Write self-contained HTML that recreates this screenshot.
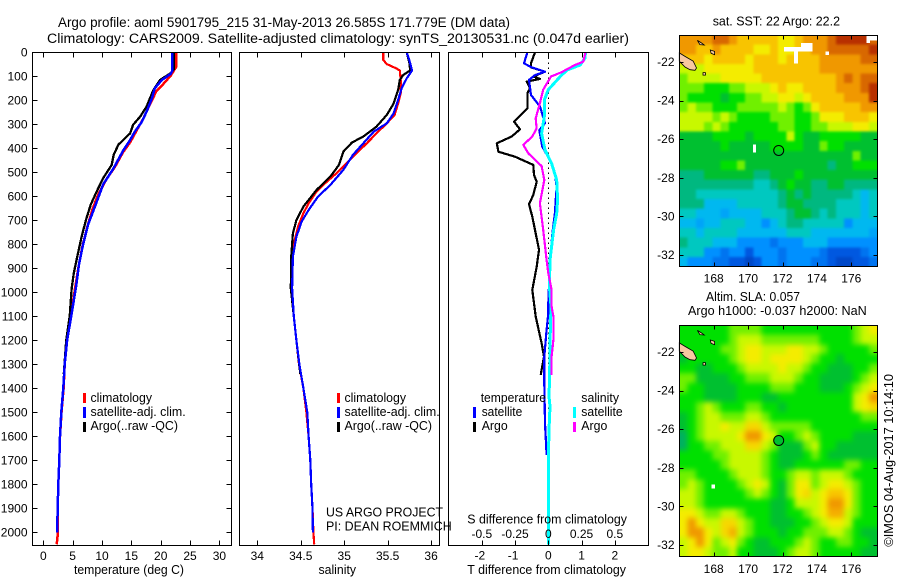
<!DOCTYPE html>
<html>
<head>
<meta charset="utf-8">
<title>Argo profile chart</title>
<style>
html,body{margin:0;padding:0;background:#fff;}
svg{display:block;}
text{font-family:"Liberation Sans",sans-serif;fill:#000;font-size:12.5px;}
.t{font-size:13.5px;}
.k{font-size:12px;}
</style>
</head>
<body>
<svg id="chart" xmlns="http://www.w3.org/2000/svg" width="900" height="580" viewBox="0 0 900 580">
<defs>
<filter id="blur-sst" color-interpolation-filters="sRGB"><feGaussianBlur stdDeviation="1.3"/></filter>
<filter id="blur-sla" color-interpolation-filters="sRGB"><feGaussianBlur stdDeviation="2.6"/></filter>
<clipPath id="clip-sst"><rect x="679.5" y="35.5" width="198" height="231"/></clipPath>
<clipPath id="clip-sla"><rect x="679.5" y="325.5" width="198" height="231"/></clipPath>
</defs>
<rect x="0" y="0" width="900" height="580" fill="#fff"/>
<text class="t" x="58" y="27" textLength="452" lengthAdjust="spacingAndGlyphs">Argo profile: aoml 5901795_215 31-May-2013 26.585S 171.779E (DM data)</text>
<text class="t" x="47" y="43" textLength="582" lengthAdjust="spacingAndGlyphs">Climatology: CARS2009. Satellite-adjusted climatology: synTS_20130531.nc (0.047d earlier)</text>

<g id="p1"></g>
<g id="p2"></g>
<g id="p3"></g>
<g id="m1"></g>
<g id="m2"></g>

<text x="74" y="574" textLength="110" lengthAdjust="spacingAndGlyphs">temperature (deg C)</text>
<text x="318.5" y="574" textLength="37.5" lengthAdjust="spacingAndGlyphs">salinity</text>
<text x="467.3" y="574" textLength="158.7" lengthAdjust="spacingAndGlyphs">T difference from climatology</text>
<text x="467.3" y="523.5" textLength="159.7" lengthAdjust="spacingAndGlyphs">S difference from climatology</text>

<g>
<rect x="83" y="393" width="3" height="10" fill="#f00"/>
<rect x="83" y="407" width="3" height="11" fill="#00f"/>
<rect x="83" y="422" width="3" height="10" fill="#000"/>
<text x="90.5" y="402" textLength="61.5" lengthAdjust="spacingAndGlyphs">climatology</text>
<text x="90.5" y="416" textLength="95.2" lengthAdjust="spacingAndGlyphs">satellite-adj. clim.</text>
<text x="90.5" y="430" textLength="87.5" lengthAdjust="spacingAndGlyphs">Argo(..raw -QC)</text>
</g>
<g>
<rect x="337" y="393" width="3" height="10" fill="#f00"/>
<rect x="337" y="407" width="3" height="11" fill="#00f"/>
<rect x="337" y="422" width="3" height="10" fill="#000"/>
<text x="344.5" y="402" textLength="61.5" lengthAdjust="spacingAndGlyphs">climatology</text>
<text x="344.5" y="416" textLength="95.2" lengthAdjust="spacingAndGlyphs">satellite-adj. clim.</text>
<text x="344.5" y="430" textLength="87.5" lengthAdjust="spacingAndGlyphs">Argo(..raw -QC)</text>
</g>
<text x="326" y="516.7" textLength="117" lengthAdjust="spacingAndGlyphs">US ARGO PROJECT</text>
<text x="326" y="530.7" textLength="125.7" lengthAdjust="spacingAndGlyphs">PI: DEAN ROEMMICH</text>

<g>
<text x="480.7" y="402" textLength="65.3" lengthAdjust="spacingAndGlyphs">temperature</text>
<text x="581.3" y="402" textLength="37.7" lengthAdjust="spacingAndGlyphs">salinity</text>
<rect x="473" y="407" width="3" height="11" fill="#00f"/>
<rect x="473" y="422" width="3" height="10" fill="#000"/>
<rect x="573" y="407" width="3" height="11" fill="#0ff"/>
<rect x="573" y="422" width="3" height="10" fill="#f0f"/>
<text x="481.7" y="416" textLength="40.6" lengthAdjust="spacingAndGlyphs">satellite</text>
<text x="481.7" y="430" textLength="26" lengthAdjust="spacingAndGlyphs">Argo</text>
<text x="581.3" y="416" textLength="41.4" lengthAdjust="spacingAndGlyphs">satellite</text>
<text x="581.3" y="430" textLength="26" lengthAdjust="spacingAndGlyphs">Argo</text>
</g>

<text x="712.7" y="25.7" textLength="127.3" lengthAdjust="spacingAndGlyphs">sat. SST: 22 Argo: 22.2</text>
<text x="706" y="301" textLength="94" lengthAdjust="spacingAndGlyphs">Altim. SLA: 0.057</text>
<text x="688" y="315" textLength="178.7" lengthAdjust="spacingAndGlyphs">Argo h1000: -0.037 h2000: NaN</text>
<text transform="translate(893,546.7) rotate(-90)" x="0" y="0" textLength="172.7" lengthAdjust="spacingAndGlyphs">©IMOS 04-Aug-2017 10:14:10</text>
</svg>

<script>
// ---- depth axis ----
const depthTicks = [0,100,200,300,400,500,600,700,800,900,1000,1100,1200,1300,1400,1500,1600,1700,1800,1900,2000];

// ---- temperature panel ----
const tempTicks = [0,5,10,15,20,25,30];
const tempClimDepth = [0,60,97,132,160,215,278,326,375,416,478,527,590,652,728,805,895,985,1100,1200,1300,1400,1500,1600,1700,1800,1900,2000,2050];
const tempClimValue = [22.66,22.66,21.7,20.45,19.3,18.2,17.0,15.9,14.8,13.6,12.2,10.8,9.4,8.4,7.5,6.7,6.0,5.4,4.7,4.05,3.65,3.45,3.1,2.85,2.73,2.56,2.45,2.5,2.28];
const tempArgoDepth = [0,70,87,115,157,226,268,302,337,385,427,469,524,580,635,698,767,851,920,983,1100,1200,1340];
const tempArgoValue = [22.27,22.27,21.7,19.9,18.75,17.6,16.5,15.3,14.8,12.8,12.0,11.65,10.2,9.1,8.07,7.27,6.54,5.8,5.2,4.84,4.5,3.9,3.5];
const tempSatDepth = [0,75,90,115,150,192,247,289,330,365,410,486,550,642,715,798,881,978,1100,1200,1300,1400,1500,1600,1700,1800,1900,2000];
const tempSatValue = [22.0,22.0,21.7,20.2,19.0,18.5,17.6,16.8,15.6,14.8,13.6,11.9,10.2,8.8,7.67,6.8,6.1,5.57,4.75,4.05,3.65,3.4,3.07,2.85,2.73,2.56,2.45,2.35];

// ---- salinity panel ----
const salTicks = [34,34.5,35,35.5,36];
const salTickLabels = ['34','34.5','35','35.5','36'];
const salClimDepth = [0,32,49,67,76,115,171,213,261,296,338,379,421,462,504,539,581,629,671,726,782,838,893,983,1100,1200,1300,1400,1500,1600,1700,1800,1900,2000,2050];
const salClimValue = [35.45,35.45,35.49,35.60,35.64,35.65,35.65,35.62,35.58,35.49,35.37,35.26,35.14,35.03,34.91,34.80,34.68,34.59,34.53,34.47,34.43,34.41,34.39,34.39,34.42,34.45,34.48,34.53,34.565,34.59,34.61,34.62,34.635,34.645,34.655];
const salArgoDepth = [0,46,76,94,115,157,213,261,310,351,376,414,469,518,574,643,699,754,851,983,1100,1200,1340];
const salArgoValue = [35.72,35.75,35.76,35.68,35.64,35.62,35.57,35.49,35.37,35.22,35.09,34.99,34.94,34.84,34.68,34.53,34.45,34.41,34.39,34.385,34.42,34.45,34.495];
const salSatDepth = [0,46,76,108,150,199,254,296,331,379,428,490,553,601,657,706,768,851,983,1100,1200,1300,1400,1500,1600,1700,1800,1900,2000];
const salSatValue = [35.72,35.76,35.78,35.72,35.66,35.62,35.57,35.49,35.34,35.22,35.10,34.99,34.84,34.70,34.59,34.51,34.45,34.41,34.40,34.42,34.45,34.485,34.53,34.575,34.59,34.61,34.62,34.635,34.64];

// ---- difference panel ----
const diffTTicks = [-2,-1,0,1,2];
const diffTTickLabels = ['-2','-1','0','1','2'];
const diffSTicks = [-0.5,-0.25,0,0.25,0.5];
const diffSTickLabels = ['-0.5','-0.25','0','0.25','0.5'];
const dTempArgoDepth = [0,46,63,81,101,111,122,150,171,233,289,321,351,379,414,435,469,511,539,594,633,685,740,823,893,990,1101,1212,1268,1344];
const dTempArgoValue = [-0.40,-0.52,-0.52,-0.10,-0.45,-0.25,-0.65,-0.55,-0.63,-0.63,-1.03,-0.85,-1.10,-1.55,-1.50,-1.00,-0.45,-0.43,-0.35,-0.45,-0.58,-0.48,-0.40,-0.28,-0.35,-0.48,-0.38,-0.20,-0.13,-0.23];
const dTempSatDepth = [0,46,63,81,95,115,178,226,296,324,393,463,504,560,671,747,865,1045,1087,1157,1268,1379,1545,1678];
const dTempSatValue = [-0.63,-0.73,-0.50,-0.10,-0.40,-0.58,-0.52,-0.25,-0.10,-0.27,-0.18,0.10,0.20,0.25,0.20,0.13,0.05,0,0,-0.05,-0.12,-0.12,-0.10,-0.05];
const dSalSatDepth = [0,25,53,74,101,156,199,268,338,407,463,532,615,671,740,865,976,1059,1157,1351,1434,1476,1573,1712,2050];
const dSalSatValue = [0.28,0.275,0.24,0.14,0.09,0,-0.03,-0.03,-0.05,-0.025,0.025,0.063,0.07,0.063,0.04,0.013,0.008,0.02,0.015,0.01,0.005,0.013,0.005,0,0];
const dSalArgoDepth = [0,39,53,83,101,156,212,275,317,351,386,421,474,532,629,740,865,921,990,1059,1101,1198,1268,1344];
const dSalArgoValue = [0.28,0.263,0.2,0.10,0.02,-0.038,-0.063,-0.095,-0.088,-0.12,-0.188,-0.15,-0.05,-0.03,-0.063,-0.038,-0.013,0,0.025,0.025,0.038,0.038,0.025,0.025];

// ---- maps ----
const lonTicks = [168,170,172,174,176];
const latTicks = [-22,-24,-26,-28,-30,-32];
const sstGrid = [
[11,11,11,11,12,12,11,10,10,10,10,10,9,9,10,11,11,11,12,13,13,13,13,12],
[11,11,10,10,11,10,10,10,10,9,9,10,9,9,10,10,11,11,12,12,12,12,12,13],
[10,10,10,9,10,10,10,10,9,10,10,10,9,10,10,10,10,11,11,11,11,11,12,12],
[8,8,8,9,9,9,9,9,9,10,10,10,10,10,10,10,10,11,11,11,11,11,11,11],
[7,8,8,8,8,9,9,9,9,9,10,10,10,10,10,10,10,10,10,11,12,11,12,12],
[7,7,7,6,6,6,7,7,8,8,8,9,10,9,9,10,10,10,10,11,11,11,12,13],
[7,6,6,6,6,5,6,6,7,7,8,8,9,9,8,9,10,10,10,10,11,11,11,13],
[7,8,7,7,6,6,6,7,7,7,7,7,8,7,6,7,9,10,10,10,10,10,11,11],
[8,8,8,8,7,8,7,6,6,6,6,7,7,7,6,6,7,9,9,9,10,10,10,9],
[8,8,8,7,8,7,6,6,6,6,6,6,7,7,6,6,7,7,8,8,8,9,9,8],
[5,5,5,5,6,6,6,6,5,6,6,6,6,8,6,5,5,6,6,6,6,6,5,5],
[5,5,5,5,5,6,5,5,5,5,5,6,6,6,6,5,5,7,6,6,5,5,5,5],
[5,5,5,5,5,5,5,5,5,5,5,5,5,5,5,5,5,5,5,5,5,7,5,5],
[5,5,5,5,5,6,6,7,5,5,5,5,5,5,5,5,5,5,4,5,5,6,6,6],
[4,4,4,5,5,5,5,5,5,4,4,5,5,5,6,5,5,5,5,5,5,5,5,5],
[4,4,4,4,4,4,4,4,4,3,3,4,5,6,5,5,4,4,5,5,4,4,4,4],
[4,4,3,3,3,3,3,3,3,3,3,3,4,5,4,5,4,4,4,4,4,3,2,3],
[4,4,4,2,2,2,2,3,3,3,3,3,4,5,5,4,4,4,4,3,3,3,2,3],
[3,3,2,2,2,1.5,2,2,2,2,3,3,3,4,5,5,4,3,4,3,3,3,2,3],
[2,2,1.5,2,2,3,3,3,2,2,1,2,3,4,4,3,3,3,3,3,1,2,2,2],
[3,3,2,3,3,3,3,2,2,2,2,2,2,3,3,3,2,2,2,2,2,2,2,1.5],
[4,3,3,3,2,2,2,1,1,1,1,0.5,1,1,1,2,2,2,1,1,1,1,1,1],
[3,3,3,1,1,0.5,1,1,0,1,1,1,0.5,1,1,1,1,0.5,0,0,0,0,0.5,1],
[2,1,1,1,0.5,0.5,0,0,-0.5,0,1,1,0.5,1,1,1,0.5,0.5,0,-0.5,-0.5,0,0,0.5]
];
const slaGrid = [
[6,6,6,6,6,6,7,7,7,7,6,6,6,6,6,6,6,6,6,6,6,7,8,9],
[6,6,6,6,6,6,7,8,8,8,7,7,7,7,7,7,7,6,6,6,6,7,8,8],
[6,6,6,6,6,7,7,8,9,9,8,8,8,9,9,8,8,7,6,6,6,6,6,7],
[5,6,6,6,6,6,7,8,9,9,8,9,9,9,9,8,7,6,6,5,6,6,6,6],
[6,6,5,5,6,6,6,7,8,8,8,8,9,8,8,7,6,6,5,5,5,6,6,7],
[7,7,5,5,5,5,6,6,7,7,7,8,8,8,7,6,6,5,5,5,5,6,7,8],
[7,6,6,5,5,5,5,6,6,6,6,7,7,7,6,6,6,5,5,5,6,7,8,9],
[6,6,6,5,5,5,5,6,6,6,5,5,6,6,6,6,6,6,6,6,6,8,9,11],
[6,6,7,8,7,6,6,6,7,7,6,6,5,6,6,6,6,6,6,6,6,8,9,9.5],
[5,6,7,8,8,7,7,7,8,8,7,6,6,6,6,6,6,6,6,6,6,6,7,7],
[5,6,7,8,8,9,8,8,9.5,9.5,8,7,7,7,7,7,6,6,6,6,6,6,6,6],
[4.5,6,7,8,8,8,8,9,11,11,9,8,6,6,7,8,7,6,6,6,6,5,5,5],
[4.5,6,6,7,7,8,8,8,9.5,9.5,8,7,5,5,5,7,8,6,6,5,5,5,5,5],
[6,6,6,6,7,7,8,8,8,8,7,6,5,5,5,6,7,6,5,5,5,5,5,5],
[6,6,6,6,6,7,8,8,8,8,7,6,5,5,6,6,6,6,6,6,7,7,6,6],
[7,7,6,6,6,6,7,8,8,8,7,6,6,7,8,8,7,8,8,8,7,6,6,6],
[7,8,7,6,6,6,6,7,8,9,8,6,5,7,9,9,7,8,9,9,8,7,6,6],
[8,8,7,6,6,6,6,6,7,8,7,6,5,7,9,9.5,8,9,10,10,9,7,6,6],
[8,8,7,6,6,6,6,6,6,6,6,5,5,6,8,8,8,9,11,11,9,7,6,6],
[9,9,8,7,7,8,8,7,6,6,6,5,5,6,6,7,8,9,10.5,10.5,8,7,6,6],
[9,11,9,8,8,9.5,9.5,8,7,6,6,5,5,5,6,6,7,8,9,9,8,6,6,6],
[9,11,11,9,8,9.5,10.5,8,7,6,6,6,5,6,6,7,7,7,8,8,7,6,5,5],
[8,9,11,9,7,8,9,7,6,5,5,6,6,6,7,8,7,6,6,7,7,6,6,5],
[8,9,9,8,7,7,8,6,6,5,5,5,6,7,8,8,7,6,6,6,6,6,5,5]
];
const sstMissing = [[172.09,-21.22,173.73,-21.45],[173.07,-21.01,173.73,-21.22],[172.67,-21.45,172.9,-22.09],[170.28,-26.28,170.46,-26.68],[174.51,-21.45,174.7,-21.65],[176.89,-20.6,177.5,-20.88],[176.89,-20.88,177.08,-21.01]];
const slaMissing = [[167.88,-28.87,168.07,-29.07]];
const islandMainLon = [166,166.33,166.81,167.0,166.91,166.62,166.33,166];
const islandMainLat = [-21.53,-21.71,-21.96,-22.31,-22.43,-22.40,-22.26,-21.96];
const islandNorthLon = [167.05,167.3,167.45,167.2];
const islandNorthLat = [-20.88,-21.02,-21.12,-21.1];
const islandMidLon = [167.8,168.05,168.05,167.85];
const islandMidLat = [-21.38,-21.45,-21.62,-21.55];
const islandSmallLon = [167.38,167.52,167.52,167.38];
const islandSmallLat = [-22.55,-22.55,-22.68,-22.68];
const floatLon = 171.779;
const floatLat = -26.585;
const floatLevelSla = 5;

// ---- helpers ----
const NS = 'http://www.w3.org/2000/svg';
function mk(parent, tag, name) {
  const el = document.createElementNS(NS, tag);
  
  
  parent.appendChild(el);
  return el;
}
const depthY = d => 52.3 + d * 0.24;
const tempX = v => 43.3 + v * 5.87;
const salX = v => 257.3 + (v - 34) * 86.9;
const dTX = v => 548.3 + v * 33.25;
const dSX = v => 548.3 + v * 133;

function hline(g, x1, x2, y, name) {
  const l = mk(g, 'line', name);
  l.setAttribute('x1', x1); l.setAttribute('x2', x2);
  l.setAttribute('y1', y); l.setAttribute('y2', y);
  l.setAttribute('stroke', '#000');
  l.setAttribute('shape-rendering', 'crispEdges');
}
function vline(g, x, y1, y2, name) {
  const l = mk(g, 'line', name);
  l.setAttribute('x1', x); l.setAttribute('x2', x);
  l.setAttribute('y1', y1); l.setAttribute('y2', y2);
  l.setAttribute('stroke', '#000');
  l.setAttribute('shape-rendering', 'crispEdges');
}
function frame(g, x1, y1, x2, y2, name) {
  const r = mk(g, 'rect', name);
  r.setAttribute('x', x1); r.setAttribute('y', y1);
  r.setAttribute('width', x2 - x1); r.setAttribute('height', y2 - y1);
  r.setAttribute('fill', 'none');
  r.setAttribute('stroke', '#000');
  r.setAttribute('shape-rendering', 'crispEdges');
}
function label(g, x, y, str, anchor, name) {
  const t = mk(g, 'text', name);
  t.setAttribute('x', x); t.setAttribute('y', y);
  t.setAttribute('text-anchor', anchor);
  t.setAttribute('class', 'k');
  t.textContent = str;
}
function profile(g, xs, ds, xFn, color, name, width) {
  const p = mk(g, 'polyline', name);
  p.setAttribute('points', xs.map((v, i) => xFn(v).toFixed(1) + ',' + depthY(ds[i]).toFixed(1)).join(' '));
  p.setAttribute('fill', 'none');
  p.setAttribute('stroke', color);
  p.setAttribute('stroke-width', width);
  p.setAttribute('stroke-linejoin', 'round');
  p.setAttribute('shape-rendering', 'crispEdges');
}

// ---- panel 1 ----
const p1 = document.getElementById('p1');
profile(p1, tempClimValue, tempClimDepth, tempX, '#f00', 'temperature-climatology-line', 2.5);
profile(p1, tempArgoValue, tempArgoDepth, tempX, '#000', 'temperature-argo-line', 2.3);
profile(p1, tempSatValue, tempSatDepth, tempX, '#00f', 'temperature-satellite-line', 2.5);
frame(p1, 32.5, 52.5, 231.5, 545.5, 'temperature-plot-frame');
depthTicks.forEach(d => {
  const y = Math.round(depthY(d)) + 0.5;
  hline(p1, 32.5, 37.5, y, 'depth-tick-left');
  hline(p1, 226.5, 231.5, y, 'depth-tick-right');
  label(p1, 27.5, depthY(d) + 4, String(d), 'end', 'depth-tick-label');
});
tempTicks.forEach(v => {
  const x = Math.round(tempX(v)) + 0.5;
  vline(p1, x, 52.5, 57.5, 'temperature-tick-top');
  vline(p1, x, 540.5, 545.5, 'temperature-tick-bottom');
  label(p1, tempX(v), 560, String(v), 'middle', 'temperature-tick-label');
});

// ---- panel 2 ----
const p2 = document.getElementById('p2');
profile(p2, salClimValue, salClimDepth, salX, '#f00', 'salinity-climatology-line', 2.2);
profile(p2, salArgoValue, salArgoDepth, salX, '#000', 'salinity-argo-line', 2.2);
profile(p2, salSatValue, salSatDepth, salX, '#00f', 'salinity-satellite-line', 2.2);
frame(p2, 239.5, 52.5, 439.5, 545.5, 'salinity-plot-frame');
salTicks.forEach((v, i) => {
  const x = Math.round(salX(v)) + 0.5;
  vline(p2, x, 52.5, 57.5, 'salinity-tick-top');
  vline(p2, x, 540.5, 545.5, 'salinity-tick-bottom');
  label(p2, salX(v), 560, salTickLabels[i], 'middle', 'salinity-tick-label');
});

// ---- panel 3 ----
const p3 = document.getElementById('p3');
const zero = mk(p3, 'line', 'zero-difference-line');
zero.setAttribute('x1', 548.5); zero.setAttribute('x2', 548.5);
zero.setAttribute('y1', 52.5); zero.setAttribute('y2', 545.5);
zero.setAttribute('stroke', '#000');
zero.setAttribute('stroke-dasharray', '1.5 3.5');
zero.setAttribute('shape-rendering', 'crispEdges');
profile(p3, dTempArgoValue, dTempArgoDepth, dTX, '#000', 'delta-t-argo-line', 2.2);
profile(p3, dTempSatValue, dTempSatDepth, dTX, '#00f', 'delta-t-satellite-line', 2.2);
profile(p3, dSalSatValue, dSalSatDepth, dSX, '#0ff', 'delta-s-satellite-line', 3);
profile(p3, dSalArgoValue, dSalArgoDepth, dSX, '#f0f', 'delta-s-argo-line', 2.2);
frame(p3, 448.5, 52.5, 648.5, 545.5, 'difference-plot-frame');
diffTTicks.forEach((v, i) => {
  const x = Math.round(dTX(v)) + 0.5;
  vline(p3, x, 52.5, 57.5, 'difference-tick-top');
  vline(p3, x, 540.5, 545.5, 'difference-tick-bottom');
  label(p3, dTX(v) - (v < 0 ? 2 : 0), 559.5, diffTTickLabels[i], 'middle', 't-difference-tick-label');
});
diffSTicks.forEach((v, i) => {
  label(p3, dSX(v), 538, diffSTickLabels[i], 'middle', 's-difference-tick-label');
});

// ---- maps ----
const colorLevels = [-0.5,0,1,2,3,4,4.5,5,6,7,8,9,10,11,12,13];
const colorStops = ['#0048c8','#0058e0','#0090ff','#00b8f0','#00c8c0','#00b880','#00b060','#00c030','#00e000','#70f000','#c8f800','#f4ec00','#f8c400','#f09800','#d86800','#b83000'];
function hexRgb(h) { return [1, 3, 5].map(i => parseInt(h.substr(i, 2), 16)); }
function colorOf(v) {
  let i = 0;
  while (i < colorLevels.length - 2 && v > colorLevels[i + 1]) i++;
  const f = Math.max(0, Math.min(1, (v - colorLevels[i]) / (colorLevels[i + 1] - colorLevels[i])));
  const a = hexRgb(colorStops[i]), b = hexRgb(colorStops[i + 1]);
  return 'rgb(' + a.map((c, k) => Math.round(c + (b[k] - c) * f)).join(',') + ')';
}
function drawMap(g, grid, lat22Y, missing, prefix, circleFill, yLabelOffset, clipId, filterId) {
  const lonX = lon => 713.7 + (lon - 168) * 17.2;
  const latY = lat => lat22Y + (-22 - lat) * 19.3;
  const nr = grid.length, nc = grid[0].length;
  const dLon = 11.5 / nc, dLat = 12 / nr;
  const clipG = mk(g, 'g', prefix + '-clip-group');
  clipG.setAttribute('clip-path', 'url(#' + clipId + ')');
  const cells = mk(clipG, 'g', prefix + '-cells');
  cells.setAttribute('filter', 'url(#' + filterId + ')');
  grid.forEach((row, r) => {
    row.forEach((v, c) => {
      // outer cells run past the frame so the smoothing has no white edge; the clip trims them
      const x0 = lonX(166 + c * dLon) - (c === 0 ? 14 : 0);
      const x1 = lonX(166 + (c + 1) * dLon) + (c === nc - 1 ? 14 : 0);
      const y0 = latY(-20.6 - r * dLat) - (r === 0 ? 14 : 0);
      const y1 = latY(-20.6 - (r + 1) * dLat) + (r === nr - 1 ? 14 : 0);
      const cell = mk(cells, 'rect', prefix + '-cell');
      cell.setAttribute('x', x0.toFixed(2));
      cell.setAttribute('y', y0.toFixed(2));
      cell.setAttribute('width', (x1 - x0 + 0.4).toFixed(2));
      cell.setAttribute('height', (y1 - y0 + 0.4).toFixed(2));
      cell.setAttribute('fill', colorOf(v));
      cell.setAttribute('shape-rendering', 'crispEdges');
    });
  });
  missing.forEach(m => {
    const w = mk(g, 'rect', prefix + '-missing-data');
    w.setAttribute('x', lonX(m[0]));
    w.setAttribute('y', latY(m[1]));
    w.setAttribute('width', lonX(m[2]) - lonX(m[0]));
    w.setAttribute('height', latY(m[3]) - latY(m[1]));
    w.setAttribute('fill', '#fff');
    w.setAttribute('shape-rendering', 'crispEdges');
  });
  [[islandMainLon, islandMainLat], [islandNorthLon, islandNorthLat], [islandMidLon, islandMidLat], [islandSmallLon, islandSmallLat]].forEach(shape => {
    const isl = mk(g, 'polygon', prefix + '-island');
    isl.setAttribute('points', shape[0].map((lon, i) => lonX(lon).toFixed(1) + ',' + latY(shape[1][i]).toFixed(1)).join(' '));
    isl.setAttribute('fill', '#f8c8a0');
    isl.setAttribute('stroke', '#000');
    isl.setAttribute('stroke-width', '0.8');
  });
  const top = latY(-20.6), bottom = latY(-32.6);
  const fy1 = Math.round(top) + 0.5, fy2 = Math.round(bottom) - 0.5;
  const circ = mk(g, 'circle', prefix + '-float-position');
  circ.setAttribute('cx', lonX(floatLon));
  circ.setAttribute('cy', latY(floatLat));
  circ.setAttribute('r', 5);
  circ.setAttribute('fill', circleFill);
  circ.setAttribute('stroke', '#000');
  frame(g, 679.5, fy1, 877.5, fy2, prefix + '-frame');
  lonTicks.forEach(lon => {
    const x = Math.round(lonX(lon)) + 0.5;
    vline(g, x, fy1, fy1 + 4, prefix + '-lon-tick-top');
    vline(g, x, fy2 - 4, fy2, prefix + '-lon-tick-bottom');
    label(g, lonX(lon), fy2 + yLabelOffset, String(lon), 'middle', prefix + '-lon-label');
  });
  latTicks.forEach(lat => {
    const y = Math.round(latY(lat)) + 0.5;
    hline(g, 679.5, 683.5, y, prefix + '-lat-tick-left');
    hline(g, 873.5, 877.5, y, prefix + '-lat-tick-right');
    label(g, 674.5, latY(lat) + 4, String(lat), 'end', prefix + '-lat-label');
  });
}
drawMap(document.getElementById('m1'), sstGrid, 62, sstMissing, 'sst-map', 'none', 16, 'clip-sst', 'blur-sst');
drawMap(document.getElementById('m2'), slaGrid, 352, slaMissing, 'altimetry-map', colorOf(floatLevelSla), 16.5, 'clip-sla', 'blur-sla');
</script>
</body>
</html>
